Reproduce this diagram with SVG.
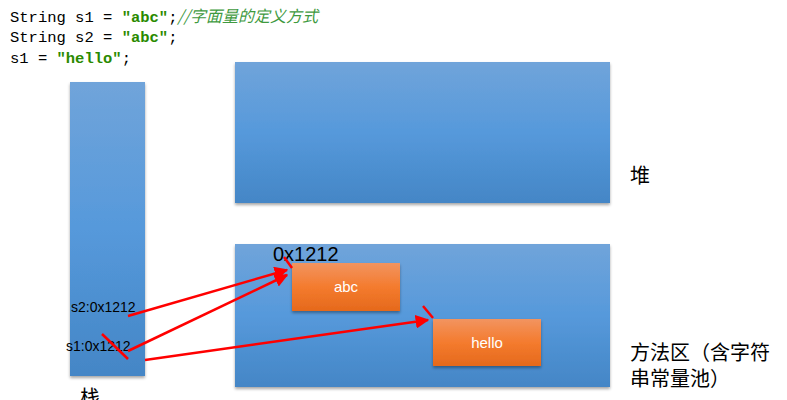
<svg xmlns="http://www.w3.org/2000/svg" width="787" height="400" viewBox="0 0 787 400">
<defs>
<linearGradient id="blue" x1="0" y1="0" x2="0" y2="1">
<stop offset="0" stop-color="#70A4DA"/><stop offset="0.5" stop-color="#5699DB"/><stop offset="1" stop-color="#4486C6"/>
</linearGradient>
<linearGradient id="orange" x1="0" y1="0" x2="0" y2="1">
<stop offset="0" stop-color="#F29460"/><stop offset="0.5" stop-color="#F47B2E"/><stop offset="1" stop-color="#E5691C"/>
</linearGradient>
<filter id="sh" x="-10%" y="-10%" width="120%" height="130%">
<feDropShadow dx="0" dy="2" stdDeviation="1.5" flood-color="#000" flood-opacity="0.35"/>
</filter>
<marker id="ah" viewBox="0 0 10 10" refX="9" refY="5" markerWidth="5.5" markerHeight="5.5" orient="auto" markerUnits="strokeWidth">
<path d="M0,0 L10,5 L0,10 z" fill="#FF0000"/>
</marker>
<style>
.code{font-family:"Liberation Mono","DejaVu Sans Mono",monospace;font-size:15.5px;fill:#000}
.str{fill:#2A8A00;font-weight:bold}
.cmt{fill:#3F9A3F;font-style:italic;font-family:"Noto Sans CJK SC","Liberation Mono",sans-serif}
.lbl{font-family:"Liberation Sans","Noto Sans CJK SC",sans-serif;fill:#000}
.cjk{font-family:"Noto Sans CJK SC","Liberation Sans",sans-serif;font-size:20px;fill:#000}
.box{fill:url(#blue);filter:url(#sh)}
.obox{fill:url(#orange);filter:url(#sh)}
.wt{font-family:"Liberation Sans",sans-serif;font-size:15px;fill:#fff;text-anchor:middle}
.red{stroke:#FF0000;stroke-width:2.5;fill:none}
</style>
</defs>
<g id="code">
<text class="code" x="10" y="22">String s1 = <tspan class="str">"abc"</tspan>;<tspan class="cmt" font-size="16px">//字面量的定义方式</tspan></text>
<text class="code" x="10" y="42">String s2 = <tspan class="str">"abc"</tspan>;</text>
<text class="code" x="10" y="63">s1 = <tspan class="str">"hello"</tspan>;</text>
</g>
<g id="stack">
<rect class="box" x="70" y="82" width="75" height="294"/>
<text class="lbl" x="71" y="312" font-size="14">s2:0x1212</text>
<text class="lbl" x="66" y="351" font-size="14">s1:0x1212</text>
<text class="cjk" x="80" y="405">栈</text>
</g>
<g id="heap">
<rect class="box" x="235" y="62" width="375" height="141"/>
<text class="cjk" x="630" y="183">堆</text>
</g>
<g id="method-area">
<rect class="box" x="235" y="244" width="375" height="143"/>
<text class="lbl" x="273" y="261" font-size="20">0x1212</text>
<text class="cjk" x="630" y="360">方法区（含字符</text>
<text class="cjk" x="630" y="386">串常量池）</text>
</g>
<g id="abc">
<rect class="obox" x="292" y="263" width="108" height="48"/>
<text class="wt" x="346" y="292">abc</text>
</g>
<g id="hello">
<rect class="obox" x="433" y="319" width="108" height="47"/>
<text class="wt" x="487" y="348">hello</text>
</g>
<g id="connectors">
<line class="red" x1="128" y1="316" x2="287" y2="270" marker-end="url(#ah)"/>
<line class="red" x1="128" y1="351" x2="287" y2="275" marker-end="url(#ah)"/>
<line class="red" x1="145" y1="360" x2="428" y2="320" marker-end="url(#ah)"/>
<line class="red" x1="102" y1="334" x2="128" y2="359"/>
<line class="red" x1="284" y1="257" x2="292" y2="268"/>
<line class="red" x1="423" y1="306" x2="433" y2="318"/>
</g>
</svg>
